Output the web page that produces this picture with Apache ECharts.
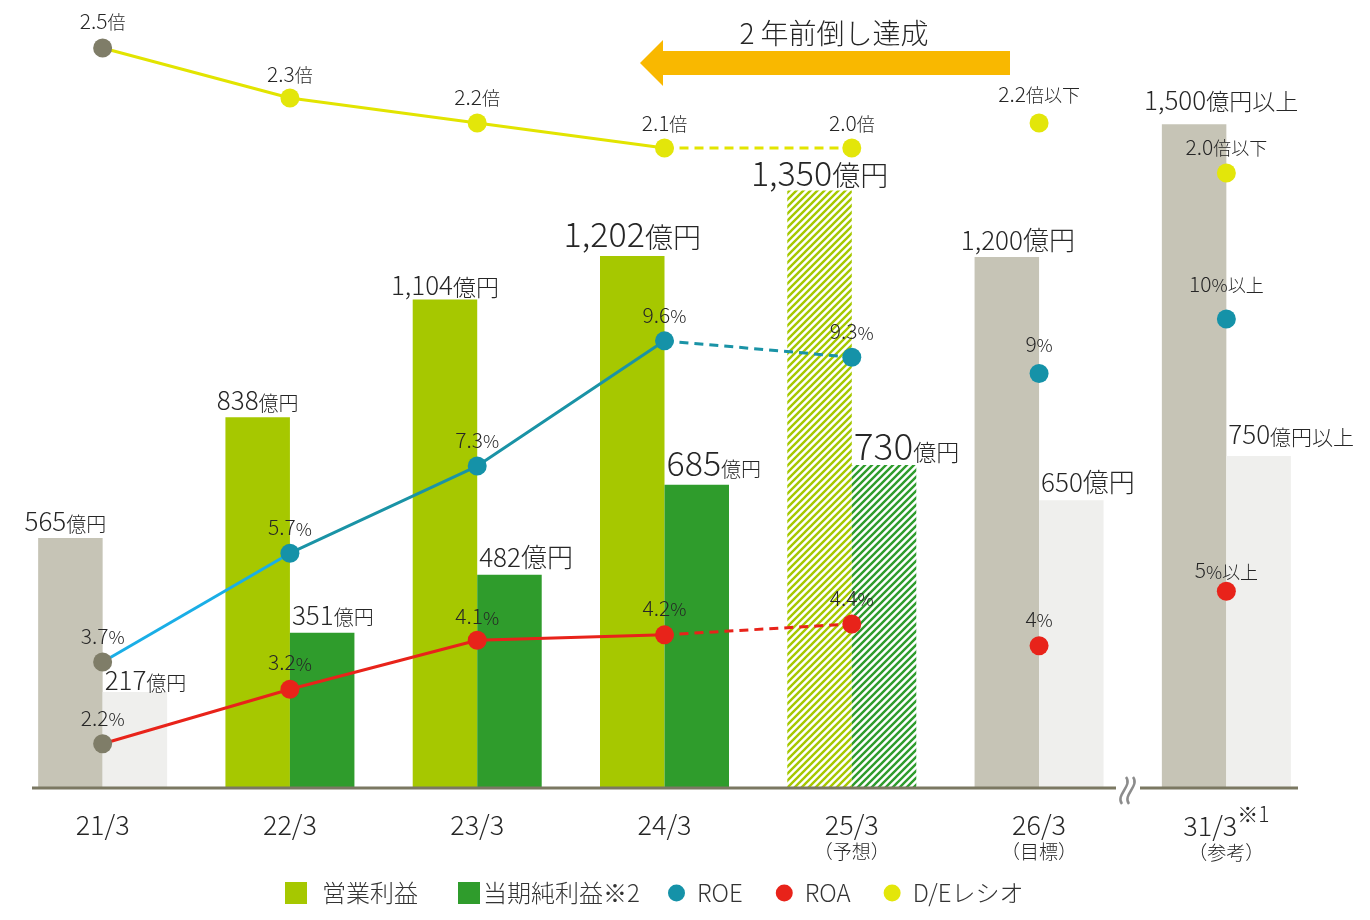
<!DOCTYPE html>
<html>
<head>
<meta charset="utf-8">
<script src="https://cdn.jsdelivr.net/npm/echarts@6/dist/echarts.min.js"></script>
<style>
    html, body { margin: 0; padding: 0; background: #fff; }
    #chart { width: 1370px; height: 920px; }
</style>
</head>
<body>
<div id="chart"></div>
<script>
// ---- data ----
var categories = ['21/3', '22/3', '23/3', '24/3', '25/3', '26/3', '31/3'];
var categoryNotes = ['', '', '', '', '（予想）', '（目標）', '（参考）'];
var phase = ['base', 'actual', 'actual', 'actual', 'forecast', 'target', 'target'];
var opProfit = [565, 838, 1104, 1202, 1350, 1200, 1500];      // 営業利益 (億円)
var netProfit = [217, 351, 482, 685, 730, 650, 750];          // 当期純利益 (億円)
var profitNote = ['', '', '', '', '', '', '以上'];
var roe = [3.7, 5.7, 7.3, 9.6, 9.3, 9, 10];
var roeNote = ['', '', '', '', '', '', '以上'];
var roa = [2.2, 3.2, 4.1, 4.2, 4.4, 4, 5];
var roaNote = ['', '', '', '', '', '', '以上'];
// D/E: 25/3 marker sits level with 24/3 in the source picture
var deRatio = [2.5, 2.3, 2.2, 2.1, 2.1, 2.2, 2.0];
var deLabels = ['2.5', '2.3', '2.2', '2.1', '2.0', '2.2', '2.0'];
var deNote = ['', '', '', '', '', '以下', '以下'];

var F = '"Noto Sans CJK JP", "Noto Sans", sans-serif';
var W = 300;
var TXT = '#262626';
var DOT_GRAY = '#7f7d68';

function stripes(color) {
    var c = document.createElement('canvas');
    var s = 7;
    c.width = s; c.height = s;
    var g = c.getContext('2d');
    g.fillStyle = '#fff';
    g.fillRect(0, 0, s, s);
    g.strokeStyle = color;
    g.lineWidth = 2.4;
    g.beginPath();
    g.moveTo(-1, s + 1); g.lineTo(s + 1, -1);
    g.moveTo(-1, 1); g.lineTo(1, -1);
    g.moveTo(s - 1, s + 1); g.lineTo(s + 1, s - 1);
    g.stroke();
    return { image: c, repeat: 'repeat' };
}

var opColors = { base: '#c6c4b6', actual: '#a6c800', forecast: stripes('#a6c800'), target: '#c6c4b6' };
var netColors = { base: '#efefed', actual: '#2f9c2c', forecast: stripes('#2f9c2c'), target: '#efefed' };

// label sizes [number, unit]
var opLabelSize = [[26, 20], [26, 20], [26, 23], [34, 28], [34, 28], [26, 26], [26, 23]];
var opLabelDx = [-5, 0, 0, 0, 0, 11, 27];
var opLabelDist = [4, 4, 1, 5, 1, 4, 11];
var netLabelSize = [[26, 20], [26, 20], [26, 26], [34, 20], [37, 23], [26, 26], [26, 21]];
var netLabelDy = [1, -5, -5, -5, -1, -5, -9];

function richFor(sz) {
    return {
        n: { fontSize: sz[0], fontFamily: F, fontWeight: W, color: TXT, verticalAlign: 'bottom' },
        u: { fontSize: sz[1], fontFamily: F, fontWeight: W, color: TXT, verticalAlign: 'bottom' }
    };
}
function moneyText(v, i) {
    return '{n|' + v.toLocaleString('en-US') + '}{u|億円' + profitNote[i] + '}';
}

var opData = opProfit.map(function (v, i) {
    return {
        value: v,
        itemStyle: { color: opColors[phase[i]] },
        label: {
            show: true, position: 'top', distance: opLabelDist[i], offset: [opLabelDx[i], 0],
            formatter: moneyText(v, i), rich: richFor(opLabelSize[i])
        }
    };
});
var netData = netProfit.map(function (v, i) {
    return {
        value: v,
        itemStyle: { color: netColors[phase[i]] },
        label: {
            show: true, position: [2, netLabelDy[i]], align: 'left', verticalAlign: 'bottom',
            formatter: moneyText(v, i), rich: richFor(netLabelSize[i])
        }
    };
});

var dotRich = {
    n: { fontSize: 21, fontFamily: F, fontWeight: W, color: TXT, verticalAlign: 'bottom' },
    p: { fontSize: 18, fontFamily: F, fontWeight: W, color: TXT, verticalAlign: 'bottom' },
    s: { fontSize: 18, fontFamily: F, fontWeight: W, color: TXT, verticalAlign: 'bottom' }
};

function markers(name, values, yIdx, color, fmt, dist) {
    return {
        name: name, type: 'scatter', yAxisIndex: yIdx, symbolSize: 19, z: 8,
        itemStyle: { color: color, opacity: 1 },
        label: { show: true, position: 'top', formatter: fmt, rich: dotRich },
        data: values.map(function (v, i) {
            return {
                value: v,
                itemStyle: { color: i === 0 ? DOT_GRAY : color, opacity: 1 },
                label: { distance: dist[i] }
            };
        })
    };
}
function segment(values, from, to, yIdx, color, dashed) {
    return {
        type: 'line', yAxisIndex: yIdx, symbol: 'none', showSymbol: false, silent: true, z: 5,
        data: values.map(function (v, i) { return (i >= from && i <= to) ? v : null; }),
        lineStyle: { color: color, width: 3, type: dashed ? [9, 6] : 'solid' }
    };
}

var chart = echarts.init(document.getElementById('chart'));
chart.setOption({
    animation: false,
    backgroundColor: '#fff',
    grid: { left: 9, right: 50, top: 18, bottom: 132, containLabel: false, outerBoundsMode: 'none' },
    legend: [
        {
            data: [{ name: '営業利益', icon: 'rect' }], left: 285, top: 881, padding: 0,
            itemWidth: 22, itemHeight: 22, selectedMode: false,
            textStyle: { fontSize: 24, fontFamily: F, fontWeight: W, color: '#333', padding: [0, 0, 0, 10] }
        },
        {
            data: [{ name: '当期純利益※2', icon: 'rect' }], left: 458, top: 881, padding: 0,
            itemWidth: 22, itemHeight: 22, selectedMode: false,
            textStyle: { fontSize: 24, fontFamily: F, fontWeight: W, color: '#333', padding: [0, 0, 0, -2] }
        },
        {
            data: [{ name: 'ROE', icon: 'circle' }, { name: 'ROA', icon: 'circle' }, { name: 'D/Eレシオ', icon: 'circle' }],
            left: 668, top: 881, padding: 0, itemWidth: 17, itemHeight: 17, itemGap: 33, selectedMode: false,
            textStyle: { fontSize: 24, fontFamily: F, fontWeight: W, color: '#333', padding: [0, 0, 0, 7] }
        }
    ],
    xAxis: {
        type: 'category',
        data: categories,
        axisLine: { show: false },
        axisTick: { show: false },
        axisLabel: {
            interval: 0, margin: 16,
            formatter: function (v, i) {
                var s = '{a|' + v + '}';
                if (i === 6) s += '{s|※1}';
                if (categoryNotes[i]) s += '\n{b|' + categoryNotes[i] + '}';
                return s;
            },
            rich: {
                a: { fontSize: 27, fontFamily: F, fontWeight: W, color: TXT, lineHeight: 34, verticalAlign: 'bottom' },
                s: { fontSize: 21, fontFamily: F, fontWeight: W, color: TXT, padding: [0, 0, 14, 0], verticalAlign: 'bottom' },
                b: { fontSize: 19, fontFamily: F, fontWeight: W, color: TXT, lineHeight: 28 }
            }
        }
    },
    yAxis: [
        { type: 'value', min: 0, max: 1740, show: false },
        { type: 'value', min: 1.387, max: 15.53, show: false },
        { type: 'value', min: -0.46, max: 2.62, show: false }
    ],
    series: [
        { name: '営業利益', type: 'bar', barWidth: 64.5, barGap: '0%', itemStyle: { color: '#a6c800' }, data: opData, z: 2 },
        { name: '当期純利益※2', type: 'bar', barWidth: 64.5, barGap: '0%', itemStyle: { color: '#2f9c2c' }, data: netData, z: 2 },

        segment(deRatio, 0, 3, 2, '#e2e400', false),
        segment(deRatio, 3, 4, 2, '#e2e400', true),
        segment(roe, 0, 1, 1, '#1aaee6', false),
        segment(roe, 1, 3, 1, '#1a93a6', false),
        segment(roe, 3, 4, 1, '#1a93a6', true),
        segment(roa, 0, 3, 1, '#e8231a', false),
        segment(roa, 3, 4, 1, '#e8231a', true),

        markers('ROE', roe, 1, '#1592a8', function (p) {
            return '{n|' + roe[p.dataIndex] + '}{p|%}' + (roeNote[p.dataIndex] ? '{s|' + roeNote[p.dataIndex] + '}' : '');
        }, [6, 6, 6, 6, 6, 10, 15]),
        markers('ROA', roa, 1, '#e8231a', function (p) {
            return '{n|' + roa[p.dataIndex] + '}{p|%}' + (roaNote[p.dataIndex] ? '{s|' + roaNote[p.dataIndex] + '}' : '');
        }, [6, 7, 4, 7, 6, 7, 1]),
        markers('D/Eレシオ', deRatio, 2, '#e3e60a', function (p) {
            return '{n|' + deLabels[p.dataIndex] + '}{s|倍' + deNote[p.dataIndex] + '}';
        }, [7, 4, 6, 5, 5, 9, 6])
    ],
    graphic: [
        {
            type: 'line', z: 50, silent: true,
            shape: { x1: 32, y1: 788, x2: 1298, y2: 788 },
            style: { stroke: '#7b7862', lineWidth: 3 }
        },
        {
            type: 'rect', z: 51, silent: true,
            shape: { x: 1116, y: 774, width: 24, height: 34 },
            style: { fill: '#fff' }
        },
        {
            type: 'bezierCurve', z: 52, silent: true,
            shape: { x1: 1126, y1: 777, x2: 1122, y2: 804, cpx1: 1133, cpy1: 786, cpx2: 1115, cpy2: 795 },
            style: { stroke: '#8c8c8c', lineWidth: 2.5, fill: null }
        },
        {
            type: 'bezierCurve', z: 52, silent: true,
            shape: { x1: 1133, y1: 777, x2: 1129, y2: 804, cpx1: 1140, cpy1: 786, cpx2: 1122, cpy2: 795 },
            style: { stroke: '#8c8c8c', lineWidth: 2.5, fill: null }
        },
        {
            type: 'polygon', z: 40, silent: true,
            shape: { points: [[640, 63], [663, 40], [663, 51], [1010, 51], [1010, 75], [663, 75], [663, 86]] },
            style: { fill: '#f9b800' }
        },
        {
            type: 'text', z: 40, silent: true,
            x: 834, y: 33,
            style: { text: '2 年前倒し達成', fontSize: 28, fontFamily: F, fontWeight: W, fill: TXT, align: 'center', verticalAlign: 'middle' }
        }
    ]
});
</script>
</body>
</html>
